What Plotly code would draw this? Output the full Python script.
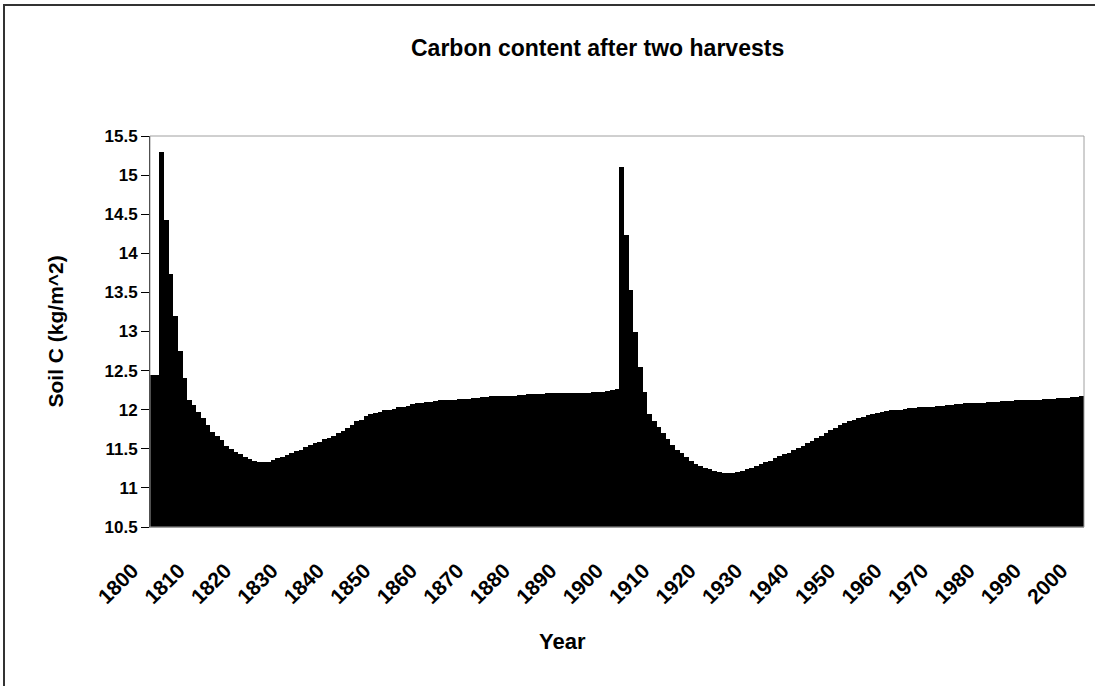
import plotly.graph_objects as go

# Soil carbon (kg/m^2), one value per year
years = list(range(1800, 2001))

soil_c_1800_1900 = [
    12.45, 12.45, 15.30, 14.42, 13.74, 13.20, 12.75, 12.40, 12.13, 12.06,  # 1800-1809
    11.97, 11.89, 11.80, 11.71, 11.66, 11.61, 11.54, 11.50, 11.46, 11.43,  # 1810-1819
    11.40, 11.37, 11.35, 11.33, 11.33, 11.33, 11.36, 11.38, 11.40, 11.42,  # 1820-1829
    11.45, 11.47, 11.49, 11.52, 11.55, 11.57, 11.59, 11.62, 11.64, 11.67,  # 1830-1839
    11.70, 11.73, 11.77, 11.81, 11.85, 11.87, 11.92, 11.95, 11.96, 11.97,  # 1840-1849
    11.99, 12.00, 12.01, 12.03, 12.04, 12.05, 12.07, 12.08, 12.09, 12.10,  # 1850-1859
    12.10, 12.11, 12.12, 12.12, 12.13, 12.13, 12.14, 12.14, 12.14, 12.15,  # 1860-1869
    12.15, 12.16, 12.16, 12.17, 12.17, 12.17, 12.18, 12.18, 12.18, 12.19,  # 1870-1879
    12.19, 12.20, 12.20, 12.20, 12.20, 12.21, 12.21, 12.21, 12.21, 12.22,  # 1880-1889
    12.22, 12.22, 12.22, 12.22, 12.22, 12.23, 12.23, 12.23, 12.24, 12.25,  # 1890-1899
    12.26,                                                                 # 1900
]

soil_c_1901_2000 = [
    15.10, 14.23, 13.53, 13.00, 12.55, 12.23, 11.95, 11.86, 11.78,         # 1901-1909
    11.70, 11.62, 11.55, 11.49, 11.44, 11.40, 11.35, 11.31, 11.28, 11.26,  # 1910-1919
    11.24, 11.22, 11.20, 11.19, 11.19, 11.19, 11.20, 11.22, 11.24, 11.26,  # 1920-1929
    11.28, 11.31, 11.33, 11.35, 11.38, 11.41, 11.43, 11.45, 11.48, 11.51,  # 1930-1939
    11.54, 11.57, 11.60, 11.64, 11.67, 11.70, 11.74, 11.77, 11.80, 11.83,  # 1940-1949
    11.85, 11.87, 11.89, 11.91, 11.93, 11.94, 11.96, 11.97, 11.98, 11.99,  # 1950-1959
    12.00, 12.00, 12.01, 12.02, 12.02, 12.03, 12.03, 12.04, 12.04, 12.05,  # 1960-1969
    12.05, 12.06, 12.06, 12.07, 12.07, 12.08, 12.08, 12.08, 12.09, 12.09,  # 1970-1979
    12.10, 12.10, 12.10, 12.11, 12.11, 12.11, 12.12, 12.12, 12.12, 12.13,  # 1980-1989
    12.13, 12.13, 12.14, 12.14, 12.14, 12.15, 12.15, 12.15, 12.16, 12.16,  # 1990-1999
    12.17,                                                                 # 2000
]

soil_c = soil_c_1800_1900 + soil_c_1901_2000

x_tick_years = list(range(1800, 2001, 10))
x_tick_labels = [str(y) for y in x_tick_years]
y_tick_values = [10.5, 11, 11.5, 12, 12.5, 13, 13.5, 14, 14.5, 15, 15.5]
y_tick_labels = ["10.5", "11", "11.5", "12", "12.5", "13", "13.5", "14", "14.5", "15", "15.5"]

FONT = "Liberation Sans"

fig = go.Figure(
    go.Bar(
        x=years,
        y=soil_c,
        marker=dict(color="black", line=dict(width=0)),
        width=1.0,
        hoverinfo="x+y",
    )
)

W, H = 1095, 686
L, R, T, B = 150, 11, 136, 159
pw, ph = W - L - R, H - T - B


def px_x(px):
    return (px - L) / pw


def px_y(py):
    return (H - B - py) / ph


fig.update_layout(
    width=W,
    height=H,
    margin=dict(l=L, r=R, t=T, b=B, pad=0, autoexpand=False),
    paper_bgcolor="white",
    plot_bgcolor="white",
    showlegend=False,
    bargap=0,
    font=dict(family=FONT, size=16, color="black", weight="bold"),
    xaxis=dict(
        range=[1799.5, 2000.5],
        tickvals=x_tick_years,
        ticktext=x_tick_labels,
        tickangle=-45,
        ticks="",
        ticklabelstandoff=22,
        ticklabelshift=-20,
        showgrid=False,
        zeroline=False,
        showline=True,
        linecolor="#a0a0a0",
        linewidth=1,
        automargin=False,
        tickfont=dict(family=FONT, size=21, color="black", weight="bold"),
    ),
    yaxis=dict(
        range=[10.5, 15.5],
        tickvals=y_tick_values,
        ticktext=y_tick_labels,
        ticks="outside",
        ticklen=8,
        tickwidth=1,
        tickcolor="black",
        showgrid=False,
        zeroline=False,
        showline=True,
        linecolor="black",
        linewidth=1,
        automargin=False,
        tickfont=dict(family=FONT, size=17, color="black", weight="bold"),
    ),
    shapes=[
        # plot area border (gray)
        dict(type="rect", xref="paper", yref="paper", x0=0, x1=1, y0=0, y1=1,
             line=dict(color="#a0a0a0", width=1), fillcolor="rgba(0,0,0,0)", layer="above"),
        # chart area outer border (runs off the right and bottom of the picture)
        dict(type="rect", xref="paper", yref="paper",
             x0=px_x(4), x1=px_x(1400), y0=px_y(1000), y1=px_y(5),
             line=dict(color="#333333", width=2), fillcolor="rgba(0,0,0,0)", layer="below"),
    ],
    annotations=[
        dict(text="Carbon content after two harvests", x=px_x(597), y=px_y(48),
             xref="paper", yref="paper", showarrow=False, xanchor="center", yanchor="middle",
             font=dict(family=FONT, size=23, color="black", weight="bold")),
        dict(text="Soil C (kg/m^2)", x=px_x(55), y=0.5, textangle=-90,
             xref="paper", yref="paper", showarrow=False, xanchor="center", yanchor="middle",
             font=dict(family=FONT, size=21, color="black", weight="bold")),
        dict(text="Year", x=px_x(562), y=px_y(641),
             xref="paper", yref="paper", showarrow=False, xanchor="center", yanchor="middle",
             font=dict(family=FONT, size=22, color="black", weight="bold")),
    ],
)

fig.write_html("out.html")
